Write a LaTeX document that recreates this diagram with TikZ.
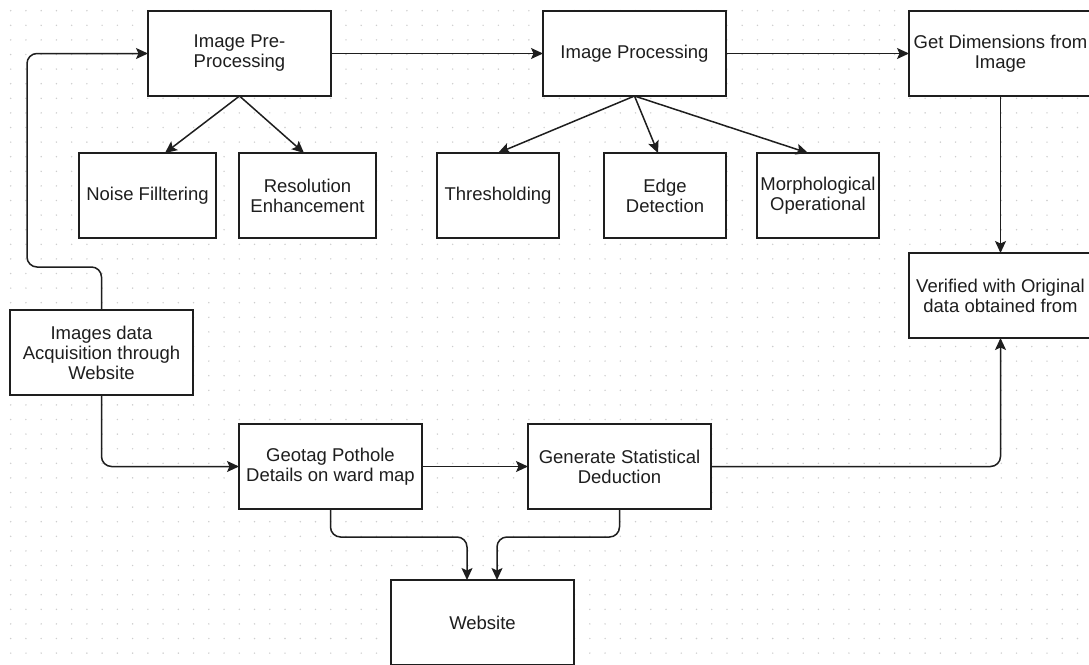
\documentclass[tikz,border=0pt]{standalone}
\usepackage{fontspec}
\setmainfont{Liberation Sans}
\usepackage{tikz}
\usetikzlibrary{positioning,arrows.meta}
\definecolor{griddot}{RGB}{205,205,205}
\definecolor{ink}{RGB}{30,30,30}

\begin{document}
\begin{tikzpicture}[x=1pt, y=-1pt, line width=1.5pt, draw=ink,
	box/.style={draw=ink, line width=1.7pt, fill=white, rectangle, outer sep=0pt, minimum width=183pt, minimum height=85pt, inner sep=1pt, align=center, text=ink, font=\fontsize{18.5}{20}\selectfont},
	small/.style={box, minimum width=137pt},
	narrow/.style={box, minimum width=122pt},
	link/.style={draw=ink, -{Stealth[length=12pt, width=11pt, inset=2.5pt]}, rounded corners=10pt}]
	
	\useasboundingbox (0,0) rectangle (1089,664);
	\clip (0,0) rectangle (1089,664);
	\fill[white] (0,0) rectangle (1089,664);
	
	% dotted grid
	\foreach \i in {0,...,71}
		\foreach \j in {0,...,45}
			\fill[griddot] ({10.7+15.24*\i},{10.7+14.6*\j}) circle (0.8pt);
	
	\node [box] (pre) at (239.5,53.5) {Image Pre-\\Processing};
	\node [box] (proc) [right=212pt of pre] {Image Processing};
	\node [box] (dims) [right=183pt of proc] {Get Dimensions from\\Image};
	
	\node [small] (noise) at (147.5,195.5) {Noise Filltering};
	\node [small] (resol) at (307.5,195.5) {Resolution\\Enhancement};
	
	\node [narrow] (thresh) at (498,195.5) {Thresholding};
	\node [narrow] (edge) at (665,195.5) {Edge\\Detection};
	\node [narrow] (morph) at (818,195.5) {Morphological\\Operational};
	
	\node [box] (verif) at (1000.5,295.5) {Verified with Original\\data obtained from};
	\node [box] (acq) at (101.5,352.5) {Images data\\Acquisition through\\Website};
	
	\node [box] (geo) at (330.5,466.5) {Geotag Pothole\\Details on ward map};
	\node [box] (stat) at (619.5,466.5) {Generate Statistical\\Deduction};
	\node [box] (web) at (482.5,622.5) {Website};
	
	\draw [link] (acq.north) -- ++(0,-43) -| (27,53.5) -- (pre.west);
	\draw [link] (acq.south) |- (geo.west);
	
	\draw [link] (pre.south) -- (noise.north -| 165,0);
	\draw [link] (pre.south) -- (resol.north -| 304,0);
	\draw [link] (pre) -- (proc);
	\draw [link] (proc) -- (dims);
	
	\draw [link] (proc.south) -- (thresh.north);
	\draw [link] (proc.south) -- (edge.north -| 658,0);
	\draw [link] (proc.south) -- (morph.north -| 808,0);
	
	\draw [link] (dims) -- (verif);
	\draw [link] (geo) -- (stat);
	\draw [link] (stat.east) -| (verif.south);
	
	\draw [link] (geo.south) -- ++(0,28) -| (web.north -| 467,0);
	\draw [link] (stat.south) -- ++(0,28) -| (web.north -| 497,0);
\end{tikzpicture}
\end{document}
